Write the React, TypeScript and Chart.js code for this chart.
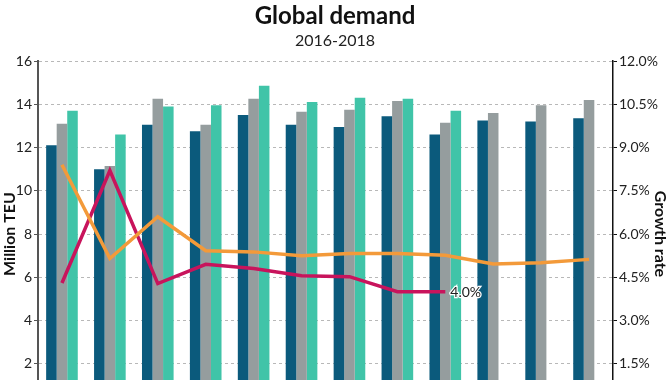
import React, { useEffect, useRef } from "react";
import { Chart, registerables } from "chart.js";

Chart.register(...registerables);

const months = ["Jan", "Feb", "Mar", "Apr", "May", "Jun", "Jul", "Aug", "Sep", "Oct", "Nov", "Dec"];
const demand2016 = [12.1, 11.0, 13.05, 12.75, 13.5, 13.05, 12.95, 13.45, 12.6, 13.25, 13.2, 13.35];
const demand2017 = [13.1, 11.15, 14.25, 13.05, 14.25, 13.65, 13.75, 14.15, 13.15, 13.6, 13.95, 14.2];
const demand2018 = [13.7, 12.6, 13.9, 13.95, 14.85, 14.1, 14.3, 14.25, 13.7, null, null, null];
const growth2017 = [8.4, 5.15, 6.6, 5.42, 5.38, 5.25, 5.32, 5.32, 5.26, 4.96, 5.0, 5.12];
const growth2018 = [4.3, 8.2, 4.28, 4.95, 4.8, 4.55, 4.52, 4.0, 4.0, null, null, null];
const lastLabel = "4.0%";

const FONT = "Lato, 'Open Sans', sans-serif";

const endLabelPlugin = {
  id: "endLabel",
  afterDatasetsDraw(chart: any) {
    const meta = chart.getDatasetMeta(4);
    let idx = -1;
    growth2018.forEach((v, i) => {
      if (v !== null) idx = i;
    });
    if (idx < 0) return;
    const pt = meta.data[idx];
    const ctx = chart.ctx;
    ctx.save();
    ctx.font = `14px ${FONT}`;
    ctx.textAlign = "left";
    ctx.textBaseline = "middle";
    ctx.lineWidth = 2.5;
    ctx.strokeStyle = "#ffffff";
    ctx.strokeText(lastLabel, pt.x + 5, pt.y + 1);
    ctx.fillStyle = "#222";
    ctx.fillText(lastLabel, pt.x + 5, pt.y + 1);
    ctx.restore();
  },
};

export default function App() {
  const ref = useRef<HTMLCanvasElement>(null);
  useEffect(() => {
    if (!ref.current) return;
    const chart = new Chart(ref.current, {
      type: "bar",
      data: {
        labels: months,
        datasets: [
          {
            type: "line",
            label: "Growth 2017",
            data: growth2017,
            yAxisID: "y1",
            borderColor: "#f39a3a",
            borderWidth: 3.5,
            pointRadius: 0,
            tension: 0,
            order: 0,
          } as any,
          {
            label: "2016",
            data: demand2016,
            backgroundColor: "#0b5a7c",
            yAxisID: "y",
            order: 2,
          },
          {
            label: "2017",
            data: demand2017,
            backgroundColor: "#959d9e",
            yAxisID: "y",
            order: 2,
          },
          {
            label: "2018",
            data: demand2018,
            backgroundColor: "#40c4a8",
            yAxisID: "y",
            order: 2,
          },
          {
            type: "line",
            label: "Growth 2018",
            data: growth2018,
            yAxisID: "y1",
            borderColor: "#c8145c",
            borderWidth: 3.5,
            pointRadius: 0,
            tension: 0,
            order: 0,
          } as any,
        ],
      },
      options: {
        responsive: true,
        maintainAspectRatio: false,
        animation: false,
        layout: { padding: { left: 0, right: 0, top: 0, bottom: 0 } },
        datasets: {
          bar: { barPercentage: 1.0, categoryPercentage: 0.66 },
        },
        plugins: {
          legend: { display: false },
          tooltip: { enabled: false },
          title: {
            display: true,
            text: "Global demand",
            color: "#111",
            font: { family: FONT, size: 24, weight: "bold" },
            padding: { top: 2, bottom: 0 },
          },
          subtitle: {
            display: true,
            text: "2016-2018",
            color: "#222",
            font: { family: FONT, size: 16 },
            padding: { top: 0, bottom: 11 },
          },
        },
        scales: {
          x: {
            offset: true,
            grid: { display: false },
            border: { display: true, color: "#555" },
            ticks: { color: "#222", font: { family: FONT, size: 13 } },
            afterFit: (s: any) => {
              s.height = 33;
            },
          },
          y: {
            position: "left",
            min: 0,
            max: 16,
            ticks: {
              stepSize: 2,
              color: "#222",
              padding: 2,
              font: { family: FONT, size: 14 },
              callback: (v: any) => (v === 0 ? "" : String(v)),
            },
            grid: {
              color: "#b8b8b8",
              lineWidth: 1,
              tickLength: 4,
              tickColor: "#555",
              drawTicks: true,
            } as any,
            border: { display: true, color: "#555", width: 2, dash: [3, 3] } as any,
            title: {
              display: true,
              text: "Million TEU",
              color: "#111",
              font: { family: FONT, size: 16, weight: "bold" },
              padding: { top: 0, bottom: 0 },
            },
            afterFit: (s: any) => {
              s.width = 38;
            },
          },
          y1: {
            position: "right",
            min: 0,
            max: 12,
            ticks: {
              stepSize: 1.5,
              color: "#222",
              padding: 2,
              font: { family: FONT, size: 14 },
              callback: (v: any) => (v === 0 ? "" : Number(v).toFixed(1) + "%"),
            },
            grid: { drawOnChartArea: false, tickLength: 4, tickColor: "#111" },
            border: { display: true, color: "#111", width: 1.5 },
            title: {
              display: true,
              text: "Growth rate",
              color: "#111",
              font: { family: FONT, size: 16, weight: "bold" },
              padding: { top: 0, bottom: 0 },
            },
            afterFit: (s: any) => {
              s.width = 57;
            },
          },
        },
      },
      plugins: [endLabelPlugin],
    });
    return () => chart.destroy();
  }, []);

  return (
    <div
      style={{
        position: "fixed",
        top: 0,
        left: 0,
        width: 670,
        height: 380,
        overflow: "hidden",
        background: "#fff",
      }}
    >
      <div style={{ position: "relative", width: 670, height: 440 }}>
        <canvas ref={ref} />
      </div>
    </div>
  );
}
